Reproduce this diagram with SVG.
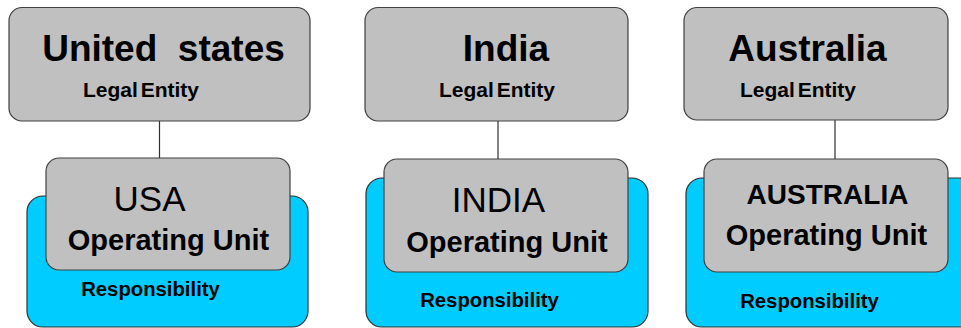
<svg xmlns="http://www.w3.org/2000/svg" width="961" height="328" viewBox="0 0 961 328">
<style>
.le{fill:#c0c0c0;stroke:#404040;stroke-width:1.2}
.ou{fill:#c0c0c0;stroke:#404040;stroke-width:1.2}
.resp{fill:#00ccff;stroke:#303030;stroke-width:1.2}
text{font-family:"Liberation Sans",Arial,sans-serif;fill:#000;text-anchor:middle}
.t1{font-size:37px;font-weight:bold;white-space:pre}
.t2{font-size:21px;font-weight:bold;word-spacing:-3px}
.t3{font-size:35px}
.t3b{font-size:28px;font-weight:bold}
.t4{font-size:29px;font-weight:bold}
.t5{font-size:20.3px;font-weight:bold}
.conn{stroke:#303030;stroke-width:1.2}
</style>
<rect width="961" height="328" fill="#ffffff"/>
<g id="connectors">
<line class="conn" x1="159.5" y1="121" x2="159.5" y2="158"/>
<line class="conn" x1="498" y1="121" x2="498" y2="159"/>
<line class="conn" x1="835" y1="120" x2="835" y2="159"/>
</g>
<g id="us-legal">
<rect class="le" x="9" y="7.5" width="301" height="113.5" rx="13"/>
<text class="t1" x="163.5" y="61">United  states</text>
<text class="t2" x="141" y="97">Legal Entity</text>
</g>
<g id="us-resp">
<rect class="resp" x="27" y="196" width="281" height="131" rx="16"/>
<text class="t5" x="150.5" y="296">Responsibility</text>
</g>
<g id="us-ou">
<rect class="ou" x="46" y="158" width="244" height="112" rx="13"/>
<text class="t3" x="149.5" y="211">USA</text>
<text class="t4" x="168.5" y="250">Operating Unit</text>
</g>
<g id="in-legal">
<rect class="le" x="365" y="7.5" width="263" height="113.5" rx="13"/>
<text class="t1" x="506" y="61">India</text>
<text class="t2" x="497" y="97">Legal Entity</text>
</g>
<g id="in-resp">
<rect class="resp" x="366" y="178" width="282" height="149" rx="16"/>
<text class="t5" x="489.5" y="307">Responsibility</text>
</g>
<g id="in-ou">
<rect class="ou" x="384" y="159" width="244" height="113" rx="13"/>
<text class="t3" x="498.5" y="212">INDIA</text>
<text class="t4" x="507" y="252">Operating Unit</text>
</g>
<g id="au-legal">
<rect class="le" x="684" y="7.5" width="264" height="112.5" rx="13"/>
<text class="t1" x="807.5" y="61">Australia</text>
<text class="t2" x="798" y="97">Legal Entity</text>
</g>
<g id="au-resp">
<rect class="resp" x="686" y="178" width="290" height="149" rx="16"/>
<text class="t5" x="809.5" y="308">Responsibility</text>
</g>
<g id="au-ou">
<rect class="ou" x="704" y="159" width="244" height="113" rx="13"/>
<text class="t3b" x="827.5" y="204">AUSTRALIA</text>
<text class="t4" x="826.5" y="245">Operating Unit</text>
</g>
</svg>
